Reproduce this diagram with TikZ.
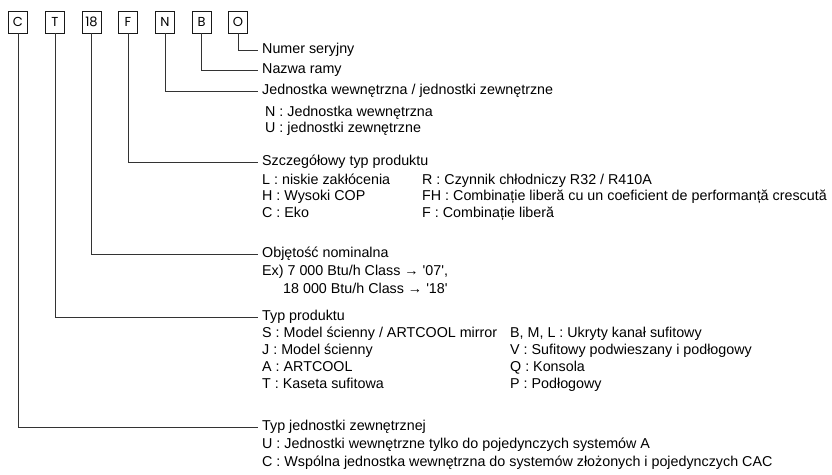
\documentclass[tikz,border=0pt]{standalone}
\usepackage{fontspec}
\setmainfont{Liberation Sans}
\newfontfamily\boxfont{Poppins}
\begin{document}
\begin{tikzpicture}[x=1pt,y=-1pt,
  codebox/.style={draw=black!90, line width=0.8pt, minimum width=19pt, minimum height=22pt, inner sep=0pt, font=\boxfont\fontsize{13}{13}\selectfont},
  head/.style={anchor=west, inner xsep=4pt, inner ysep=0pt, text height=10pt, text depth=3pt, font=\fontsize{14.3}{16}\selectfont},
  item/.style={anchor=west, inner sep=0pt, text height=10pt, text depth=3pt, font=\fontsize{14.3}{16}\selectfont},
  conn/.style={draw=black!80, line width=1pt}]
\useasboundingbox (0,0) rectangle (832,474);
% code boxes
\node[codebox] (bC)  at (18,22)  {C};
\node[codebox] (bT)  at (55,22)  {T};
\node[codebox] (b18) at (91.5,22) {18};
\node[codebox] (bF)  at (128,22) {F};
\node[codebox] (bN)  at (165,22) {N};
\node[codebox] (bB)  at (201.5,22) {B};
\node[codebox] (bO)  at (238,22) {O};
% headings
\node[head] (hO)  at (258,50)  {Numer seryjny};
\node[head] (hB)  at (258,70)  {Nazwa ramy};
\node[head] (hN)  at (258,91)  {Jednostka wewnętrzna / jednostki zewnętrzne};
\node[head] (hF)  at (258,162) {Szczegółowy typ produktu};
\node[head] (h18) at (258,254) {Objętość nominalna};
\node[head] (hT)  at (258,317) {Typ produktu};
\node[head] (hC)  at (258,427) {Typ jednostki zewnętrznej};
% items
\node[item] (n1) at (265,113) {N : Jednostka wewnętrzna};
\node[item] (n2) at (265,129) {U : jednostki zewnętrzne};
\node[item] (f1) at (262,181) {L : niskie zakłócenia};
\node[item] (f2) at (262,197) {H : Wysoki COP};
\node[item] (f3) at (262,214) {C : Eko};
\node[item] (f4) at (422,181) {R : Czynnik chłodniczy R32 / R410A};
\node[item] (f5) at (422,197) {FH : Combinație liberă cu un coeficient de performanță crescută};
\node[item] (f6) at (422,214) {F : Combinație liberă};
\node[item] (e1) at (262,272) {Ex) 7 000 Btu/h Class → \textquotesingle07\textquotesingle,};
\node[item] (e2) at (283,290) {18 000 Btu/h Class → \textquotesingle18\textquotesingle};
\node[item] (t1) at (262,334) {S : Model ścienny / ARTCOOL mirror};
\node[item] (t2) at (262,351) {J : Model ścienny};
\node[item] (t3) at (262,368) {A : ARTCOOL};
\node[item] (t4) at (262,385) {T : Kaseta sufitowa};
\node[item] (t5) at (510,334) {B, M, L : Ukryty kanał sufitowy};
\node[item] (t6) at (510,351) {V : Sufitowy podwieszany i podłogowy};
\node[item] (t7) at (510,368) {Q : Konsola};
\node[item] (t8) at (510,385) {P : Podłogowy};
\node[item] (c1) at (262,445) {U : Jednostki wewnętrzne tylko do pojedynczych systemów A};
\node[item] (c2) at (262,463) {C : Wspólna jednostka wewnętrzna do systemów złożonych i pojedynczych CAC};
% connectors
\draw[conn] (bO.south)  |- (hO.west);
\draw[conn] (bB.south)  |- (hB.west);
\draw[conn] (bN.south)  |- (hN.west);
\draw[conn] (bF.south)  |- (hF.west);
\draw[conn] (b18.south) |- (h18.west);
\draw[conn] (bT.south)  |- (hT.west);
\draw[conn] (bC.south)  |- (hC.west);
\end{tikzpicture}
\end{document}
